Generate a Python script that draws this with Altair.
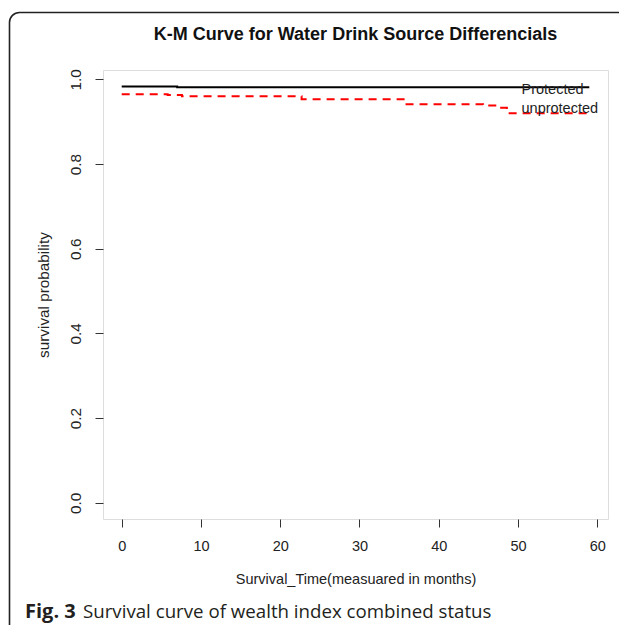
import altair as alt
import pandas as pd

# ---- data ----
groups = ["Protected", "unprotected"]
prot_time = [0, 7.0, 59]
prot_surv = [0.983, 0.981, 0.981]
unprot_time = [0, 5.8, 7.6, 22.7, 35.7, 45.6, 47.5, 48.6, 59]
unprot_surv = [0.965, 0.963, 0.960, 0.953, 0.941, 0.938, 0.933, 0.920, 0.920]
x_ticks = [0, 10, 20, 30, 40, 50, 60]
y_ticks = [0.0, 0.2, 0.4, 0.6, 0.8, 1.0]
title_text = ["K-M Curve for Water Drink Source Differencials"]
x_title = "Survival_Time(measuared in months)"
y_title = "survival probability"
caption_bold = ["Fig. 3"]
caption_rest = ["Survival curve of wealth index combined status"]

df = pd.concat([
    pd.DataFrame({"time": prot_time, "surv": prot_surv, "group": groups[0]}),
    pd.DataFrame({"time": unprot_time, "surv": unprot_surv, "group": groups[1]}),
], ignore_index=True)

FONT = "Liberation Sans"
TXT = "#222222"

x_enc = alt.X(
    "time:Q",
    scale=alt.Scale(domain=[-2.36, 61.36], nice=False, zero=False),
    axis=alt.Axis(
        values=x_ticks, format="d", domain=False, grid=False,
        tickSize=8, tickColor="#333333", tickWidth=1,
        labelFont=FONT, labelFontSize=14.5, labelColor=TXT,
        labelBaseline="top", labelPadding=12,
        title=x_title, titleFont=FONT, titleFontSize=14.5,
        titleFontWeight="normal", titleColor=TXT,
        titleBaseline="alphabetic", titleY=64,
    ),
)
y_enc = alt.Y(
    "surv:Q",
    scale=alt.Scale(domain=[-0.038, 1.022], nice=False, zero=False),
    axis=alt.Axis(
        values=y_ticks, format=".1f", domain=False, grid=False,
        tickSize=8, tickColor="#333333", tickWidth=1,
        labelFont=FONT, labelFontSize=15.3, labelColor=TXT,
        labelAngle=270, labelAlign="center", labelBaseline="alphabetic",
        labelPadding=14.5,
        title=y_title, titleFont=FONT, titleFontSize=15.3,
        titleFontWeight="normal", titleColor=TXT, titleAngle=270,
        titleBaseline="alphabetic", titleX=-55,
    ),
)

lines = alt.Chart(df).mark_line(interpolate="step-after", strokeWidth=2).encode(
    x=x_enc,
    y=y_enc,
    color=alt.Color(
        "group:N",
        scale=alt.Scale(domain=groups, range=["#000000", "#ff0000"]),
        legend=alt.Legend(
            title=None, orient="none", legendX=404, legendY=13,
            symbolType="stroke", symbolSize=0, symbolOpacity=0,
            symbolStrokeWidth=0, labelOffset=0, padding=0,
            labelFont=FONT, labelFontSize=14.5, labelColor=TXT,
            rowPadding=3.5,
        ),
    ),
    strokeDash=alt.StrokeDash(
        "group:N",
        scale=alt.Scale(domain=groups, range=[[1, 0], [8, 6]]),
        legend=None,
    ),
)

frame = alt.Chart(pd.DataFrame({"k": [0]})).mark_rect(
    fillOpacity=0, stroke="#222222", strokeWidth=1.6, cornerRadius=10
).encode(
    x=alt.value(-93.5), x2=alt.value(525), y=alt.value(-57.5), y2=alt.value(700)
)

title = alt.Chart(pd.DataFrame({"t": title_text})).mark_text(
    font=FONT, fontSize=18, fontWeight="bold", color="#111111",
    align="center", baseline="alphabetic"
).encode(x=alt.value(252.5), y=alt.value(-30), text="t:N")

cap1 = alt.Chart(pd.DataFrame({"t": caption_bold})).mark_text(
    font="Open Sans", fontSize=20, fontWeight="bold", color="#231f20",
    align="left", baseline="alphabetic"
).encode(x=alt.value(-78), y=alt.value(548), text="t:N")

cap2 = alt.Chart(pd.DataFrame({"t": caption_rest})).mark_text(
    font="Open Sans", fontSize=18.7, color="#231f20",
    align="left", baseline="alphabetic"
).encode(x=alt.value(-20), y=alt.value(548), text="t:N")

chart = alt.layer(frame, title, lines, cap1, cap2).properties(
    width=505,
    height=449,
    autosize=alt.AutoSizeParams(type="none"),
    padding={"left": 95, "top": 62, "right": 11, "bottom": 106},
).configure_view(
    stroke="#444444", strokeWidth=1.2
).configure(background="white")

chart.save("out.html", embed_options={"renderer": "svg", "actions": False})
